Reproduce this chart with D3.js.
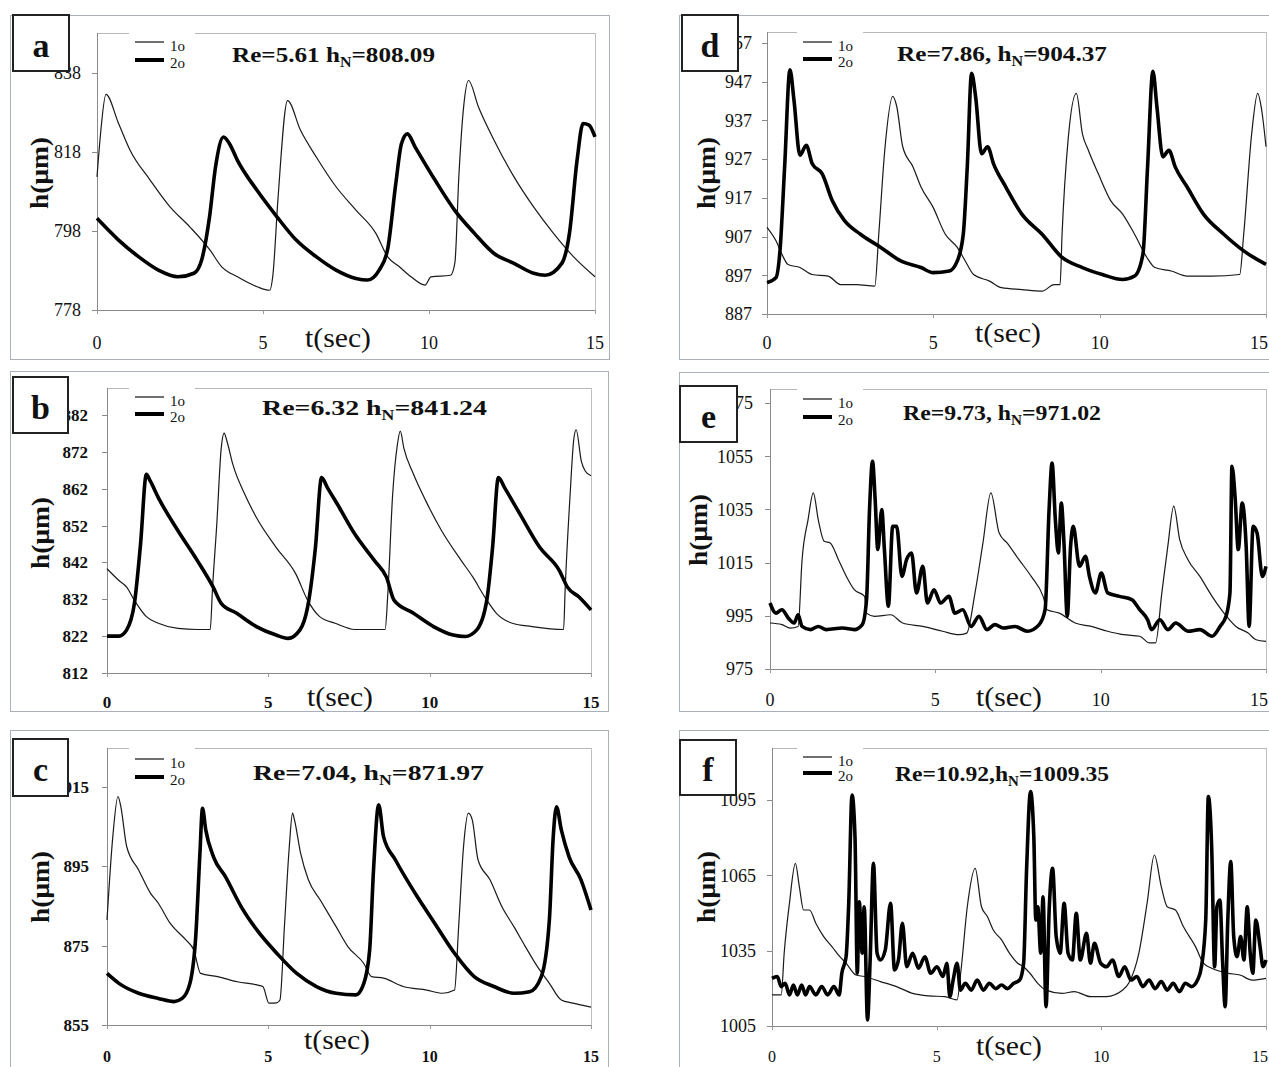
<!DOCTYPE html>
<html><head><meta charset="utf-8">
<script src="https://cdn.jsdelivr.net/npm/d3@7"></script>
<style>body{margin:0;background:#fff}svg{display:block}</style>
</head><body>
<svg id="chart" width="1269" height="1067"></svg>
<script>
// ---------- DATA: [t (sec), h (um)] ----------
const a1o = [[0,811.7],[0.1,822],[0.27,832.6],[0.65,825.2],[1.0,818.4],[1.6,810.9],[2.2,804.1],[2.8,799],[3.4,793.2],[3.75,789],[4.23,786.4],[4.82,783.9],[5.2,783],[5.3,787],[5.45,806],[5.74,831],[6.13,823.5],[6.6,816.8],[7.2,809.2],[7.8,803.3],[8.4,797.4],[8.75,791.5],[9.1,789],[9.46,786.4],[9.88,784.3],[10.06,786.4],[10.65,786.8],[10.78,790],[10.9,812],[11.05,830],[11.19,836.1],[11.49,829.4],[11.96,821],[12.56,811.7],[13.15,804.1],[13.75,797.4],[14.35,791.5],[15,786.4]];
const a2o = [[0,801.2],[0.65,795.7],[1.25,791.5],[1.85,788.1],[2.44,786.4],[2.92,787.3],[3.15,790.6],[3.39,801.6],[3.57,814.2],[3.81,821.8],[3.99,820.1],[4.23,815.9],[4.82,808.3],[5.42,801.6],[6.0,795.7],[6.6,791.5],[7.2,788.1],[7.8,786],[8.15,785.6],[8.5,788.1],[8.75,793.2],[9.0,810],[9.17,820.1],[9.35,822.6],[9.58,819.3],[10.18,810.9],[10.77,803.3],[11.37,797.4],[11.96,792.3],[12.56,789.8],[13.15,787.3],[13.5,786.8],[14.0,789.8],[14.23,797.4],[14.46,815.9],[14.64,825.2],[14.82,824.8],[15,821.8]];
const b1o = [[0,840.3],[0.37,837.1],[0.61,835.3],[0.85,831.7],[1.22,827.3],[1.59,825.5],[2.2,824.1],[2.8,823.8],[3.2,823.8],[3.27,835],[3.4,852],[3.54,873],[3.63,877.1],[3.72,874.8],[3.9,868.6],[4.27,860.5],[4.63,854.2],[5.24,846.1],[5.85,838.9],[6.22,831.7],[6.59,827.3],[7.07,825.5],[7.68,823.8],[8.62,823.8],[8.7,833],[8.85,860],[9.0,874],[9.09,877.6],[9.2,873],[9.5,865.9],[9.88,858.7],[10.37,850.6],[10.98,842.5],[11.34,838],[11.71,832.6],[12.07,828.2],[12.56,825.5],[13.17,824.6],[14.15,823.8],[14.2,835],[14.35,860],[14.47,875.7],[14.54,878],[14.7,869.5],[14.82,866.8],[15,865.5]];
const b2o = [[0,822],[0.37,822],[0.61,823.7],[0.85,830.9],[1.04,847],[1.22,865.9],[1.34,864.1],[1.59,859.6],[2.2,850.6],[2.8,842.5],[3.29,835.3],[3.54,830.9],[4.02,828.2],[4.63,824.6],[5.24,822.3],[5.61,821.4],[5.98,823.7],[6.22,830],[6.46,846.1],[6.65,865],[6.83,862.3],[7.2,856.9],[7.68,849.7],[8.29,842.5],[8.66,838],[8.9,831.7],[9.5,828.2],[10.12,824.6],[10.73,822.3],[11.1,821.9],[11.46,823.7],[11.77,831.7],[11.95,846.1],[12.13,865],[12.32,862.3],[12.8,855.1],[13.41,846.1],[14.02,839.8],[14.27,835.3],[14.63,832.6],[15,829.1]];
const c1o = [[0,881.5],[0.18,902.5],[0.34,912.6],[0.43,910],[0.61,900],[0.98,894.1],[1.35,888.2],[1.59,885.7],[1.96,880.6],[2.45,876.4],[2.69,873.9],[2.9,868],[3.43,867.2],[4.04,865.9],[4.65,865.1],[4.83,864.7],[5.02,860.5],[5.26,860.6],[5.36,861.3],[5.5,880],[5.65,900],[5.75,908.4],[5.81,906.7],[6.0,898.3],[6.24,891.6],[6.61,886.5],[7.1,879.8],[7.47,874.7],[7.96,870.5],[8.2,867.2],[8.57,866.8],[9.18,864.7],[9.91,863.8],[10.4,863],[10.77,863.8],[10.9,880],[11.05,900],[11.2,908.4],[11.32,906.7],[11.5,896.6],[11.87,891.6],[12.24,884.8],[12.61,879.8],[12.97,874.7],[13.34,869.7],[13.71,865.5],[14.08,861.3],[14.44,860.5],[15,859.5]];
const c2o = [[0,868],[0.37,865.5],[0.98,863],[1.59,861.7],[2.08,860.9],[2.33,861.7],[2.57,865.5],[2.75,877.3],[2.88,898.3],[2.96,909.6],[3.06,904.2],[3.3,897.4],[3.67,892.4],[4.16,884.8],[4.65,878.9],[5.26,873.1],[5.88,868],[6.49,864.7],[7.1,863],[7.71,862.6],[7.96,865.5],[8.14,873.9],[8.26,894.1],[8.42,910.5],[8.57,902.5],[8.94,896.6],[9.55,888.2],[10.16,880.6],[10.77,873.1],[11.38,867.2],[11.99,864.7],[12.61,863],[13.1,863.4],[13.46,867.2],[13.71,881.5],[13.83,902.5],[13.93,910],[14.08,904.2],[14.32,897.4],[14.69,891.6],[15,884]];
const d1o = [[0,909.4],[0.27,905.9],[0.45,902.4],[0.63,899.8],[0.99,899],[1.36,897.2],[1.84,896.8],[2.21,894.6],[2.69,894.6],[3.24,894.2],[3.36,907.6],[3.54,929.3],[3.78,943.2],[3.9,940.6],[4.08,930.2],[4.39,925],[4.63,919.8],[4.99,914.6],[5.36,907.6],[5.72,904.2],[5.96,900.7],[6.21,897.2],[6.69,895.5],[7.05,893.8],[7.66,893.3],[8.27,892.9],[8.63,894.6],[8.81,894.6],[8.87,907.6],[9.05,931.9],[9.3,944],[9.48,933.6],[9.66,929.3],[9.96,923.2],[10.33,916.3],[10.69,912.8],[11.05,907.6],[11.42,901.6],[11.66,899],[12.15,898.1],[12.63,896.8],[13.36,896.8],[14.21,897.2],[14.33,907.6],[14.57,933.6],[14.75,944],[14.87,939.7],[15,930.2]];
const d2o = [[0,895.1],[0.27,896.4],[0.39,903.3],[0.53,925],[0.69,950.1],[0.81,942.3],[0.99,928],[1.18,930.6],[1.36,925.8],[1.66,923.2],[1.96,916.3],[2.33,911.1],[2.81,907.6],[3.42,904.2],[4.02,900.7],[4.63,899],[4.99,897.7],[5.48,898.1],[5.72,900.7],[5.9,907.6],[6.02,925],[6.15,949.2],[6.27,943.2],[6.45,928.4],[6.63,930.2],[6.81,925.8],[7.18,919.8],[7.66,912.8],[8.27,907.6],[8.87,901.6],[9.48,899],[10.08,897.2],[10.69,895.9],[11.05,896.8],[11.3,902.4],[11.44,925],[11.6,949.7],[11.72,940.6],[11.9,927.6],[12.08,929.3],[12.27,925],[12.63,919.8],[13.12,912.8],[13.73,907.6],[14.33,903.3],[15,899.8]];
const e1o = [[0,992.3],[0.36,991.7],[0.61,990.4],[0.85,991],[0.97,1016.1],[1.15,1031.1],[1.31,1041.2],[1.46,1031.1],[1.64,1023],[1.82,1022.4],[2.07,1016.1],[2.31,1009.8],[2.55,1004.8],[2.86,1002.3],[2.92,996],[3.16,994.8],[3.65,995.4],[4.01,992.3],[4.62,991],[5.22,989.2],[5.71,987.9],[5.95,988.5],[6.2,1003.6],[6.44,1022.4],[6.68,1041.2],[6.93,1026.1],[7.17,1022.4],[7.53,1016.1],[7.9,1009.8],[8.26,1002.3],[8.38,997.3],[8.75,996],[9.23,992.3],[9.72,991],[10.21,989.2],[10.69,987.9],[11.18,987.3],[11.48,984.8],[11.66,984.8],[11.85,1003.6],[12.03,1021.1],[12.21,1036.2],[12.39,1023.6],[12.64,1016.1],[13.0,1009.8],[13.37,1002.3],[13.73,996],[14.09,991],[14.46,988.5],[14.7,986],[15,985.4]];
const e2o = [[0,999.8],[0.18,996],[0.36,997.3],[0.55,994.2],[0.73,992.3],[0.85,995.4],[0.97,991],[1.22,989.8],[1.46,991],[1.7,989.8],[2.19,990.4],[2.55,989.8],[2.79,991.7],[2.92,1001.1],[3.01,1034.9],[3.1,1053.1],[3.18,1038.7],[3.26,1019.9],[3.38,1034.9],[3.46,1019.9],[3.58,998.6],[3.71,1028.6],[3.83,1028.6],[3.99,1009.8],[4.13,1016.1],[4.28,1018.6],[4.43,1003.6],[4.62,1013.6],[4.76,999.8],[4.96,1004.8],[5.16,999.8],[5.41,1002.3],[5.59,996],[5.83,997.3],[6.08,991],[6.32,994.8],[6.56,989.8],[6.8,991.7],[7.05,990.4],[7.41,991],[7.78,989.2],[8.14,991.7],[8.32,997.3],[8.44,1034.9],[8.53,1052.4],[8.63,1031.1],[8.72,1018.6],[8.81,1037.4],[8.89,1022.4],[8.99,994.8],[9.09,1021.1],[9.17,1028.6],[9.36,1013.6],[9.54,1017.4],[9.66,1009.8],[9.84,1003.6],[10.02,1011.1],[10.21,1003.6],[10.57,1002.3],[10.94,1001.1],[11.18,997.3],[11.42,993.5],[11.54,989.8],[11.79,993.5],[12.03,989.8],[12.27,992.3],[12.64,989.2],[13.0,989.8],[13.37,987.3],[13.61,991],[13.79,994.8],[13.91,1003.6],[13.97,1051.2],[14.07,1038.7],[14.16,1019.9],[14.28,1037.4],[14.4,1021.1],[14.49,991],[14.61,1028.6],[14.73,1026.1],[14.89,1009.8],[15,1013.6]];
const f1o = [[0,1017.4],[0.28,1017.4],[0.37,1034],[0.53,1053.9],[0.71,1069.8],[0.83,1060.5],[0.96,1051.2],[1.14,1051.2],[1.33,1045.9],[1.57,1040.6],[1.82,1036.6],[2.06,1032.6],[2.25,1030],[2.55,1025.3],[2.8,1024.7],[3.29,1022.7],[3.78,1020.7],[4.27,1018],[4.76,1017],[5.25,1016.7],[5.62,1015.4],[5.74,1027.3],[5.93,1052.5],[6.17,1067.8],[6.36,1052.5],[6.54,1048.6],[6.72,1043.2],[6.97,1039.3],[7.21,1034],[7.46,1030],[7.64,1028.6],[7.83,1026],[8.07,1022],[8.32,1019.3],[8.81,1018],[9.18,1018.7],[9.67,1016.7],[10.16,1016.7],[10.65,1019.3],[10.83,1022],[11.14,1034],[11.39,1053.9],[11.61,1073.1],[11.82,1060.5],[12.0,1052.5],[12.25,1051.2],[12.49,1044.6],[12.86,1036.6],[13.1,1030],[13.35,1028],[13.84,1026],[14.21,1025.3],[14.58,1023.3],[15,1024]];
const f2o = [[0,1024],[0.16,1024.7],[0.28,1020.7],[0.4,1022],[0.53,1017.4],[0.65,1021.3],[0.77,1017.4],[0.9,1021.3],[1.02,1017.4],[1.14,1020.7],[1.33,1017.4],[1.51,1020.7],[1.69,1017.4],[1.88,1020.7],[2.04,1017.4],[2.12,1026],[2.25,1032.6],[2.33,1053.9],[2.43,1097],[2.52,1080.4],[2.59,1026],[2.65,1054.5],[2.74,1034],[2.8,1052.5],[2.9,1007.4],[2.98,1031.3],[3.08,1069.8],[3.19,1034],[3.29,1031.3],[3.44,1035.3],[3.6,1053.9],[3.72,1027.3],[3.84,1031.3],[3.96,1045.9],[4.09,1028.6],[4.27,1034],[4.45,1028],[4.64,1032.6],[4.82,1026],[5.01,1028.6],[5.19,1024.7],[5.31,1030],[5.4,1016.7],[5.5,1023.3],[5.62,1030],[5.72,1019.3],[5.87,1022],[6.05,1019.3],[6.23,1023.3],[6.42,1019.3],[6.6,1022],[6.79,1019.9],[6.97,1021.3],[7.15,1019.9],[7.34,1022],[7.52,1023.3],[7.64,1030],[7.73,1067.2],[7.85,1098.4],[7.95,1080.4],[8.01,1047.2],[8.07,1052.5],[8.16,1034],[8.23,1056.5],[8.32,1012.7],[8.42,1052.5],[8.52,1067.8],[8.63,1040.6],[8.75,1034],[8.87,1053.9],[8.99,1034],[9.12,1031.3],[9.24,1049.9],[9.36,1031.3],[9.55,1041.9],[9.67,1030],[9.79,1037.9],[9.98,1030],[10.16,1028.6],[10.34,1031.3],[10.53,1024.7],[10.71,1028.6],[10.9,1023.3],[11.08,1024.7],[11.26,1020.7],[11.45,1023.3],[11.63,1019.9],[11.82,1022.7],[12.0,1019.3],[12.18,1022],[12.37,1018.7],[12.55,1022],[12.74,1020.7],[12.92,1023.3],[13.04,1028.6],[13.17,1047.2],[13.25,1096.4],[13.35,1076.4],[13.44,1028.6],[13.51,1052.5],[13.6,1055.2],[13.68,1031.3],[13.76,1012.7],[13.84,1047.2],[13.93,1070.5],[14.02,1040.6],[14.12,1032.6],[14.23,1040.6],[14.33,1031.3],[14.43,1052.5],[14.52,1034],[14.6,1026],[14.69,1047.2],[14.82,1036.6],[14.91,1028.6],[15,1031.3]];

// tick labels
const xTicks = [0, 5, 10, 15];
const ticksA = [778, 798, 818, 838];
const ticksB = [812, 822, 832, 842, 852, 862, 872, 882];
const ticksC = [855, 875, 895, 915];
const ticksD = [887, 897, 907, 917, 927, 937, 947, 957];
const ticksE = [975, 995, 1015, 1035, 1055, 1075];
const ticksF = [1005, 1035, 1065, 1095];

// annotations
const panelLetters = ["a", "b", "c", "d", "e", "f"];
const reTexts = ["Re=5.61 h", "Re=6.32 h", "Re=7.04, h", "Re=7.86, h", "Re=9.73, h", "Re=10.92,h"];
const hnTexts = ["=808.09", "=841.24", "=871.97", "=904.37", "=971.02", "=1009.35"];
const legendNames = ["1o", "2o"];

// ---------- LAYOUT ----------
const layouts = [
  {frame:[10,15,599,344], box:[12,14,58,58], px:[97,595], top:33, yPx:[310,73], ticks:ticksA, bold:false, lo:16, yt:[39,173], xlabY:343, ts:[338,338], leg:[135,42,60], ann:[232,54,203], s1:a1o, s2:a2o},
  {frame:[10,371,598,340], box:[12,376,57,58], px:[107,591], top:388, yPx:[673,415], ticks:ticksB, bold:true, lo:19, yt:[40,533], xlabY:702, ts:[340,697], leg:[135,397,414], ann:[262,407,225], s1:b1o, s2:b2o},
  {frame:[10,730,598,360], box:[12,738,57,59], px:[107,591], top:748, yPx:[1025,787], ticks:ticksC, bold:true, lo:18, yt:[40,887], xlabY:1056, ts:[337,1040], leg:[135,759,777], ann:[253,772,231], s1:c1o, s2:c2o},
  {frame:[679,15,620,344], box:[681,14,58,58], px:[767,1266], top:32, yPx:[314,43], ticks:ticksD, bold:false, lo:15, yt:[706,173], xlabY:343, ts:[1008,333], leg:[803,42,59], ann:[897,53,210], s1:d1o, s2:d2o},
  {frame:[679,372,620,339], box:[679,385,59,58], px:[770,1266], top:389, yPx:[669,403], ticks:ticksE, bold:false, lo:17, yt:[698,530], xlabY:700, ts:[1009,697], leg:[803,399,417], ann:[903,412,198], s1:e1o, s2:e2o},
  {frame:[679,730,620,360], box:[679,739,58,57], px:[772,1266], top:748, yPx:[1026,800], ticks:ticksF, bold:false, lo:16, yt:[706,887], xlabY:1056, ts:[1009,1046], leg:[803,757,773], ann:[895,773,214], s1:f1o, s2:f2o}
];

const serif = "'Liberation Serif','Times New Roman',serif";
const svg = d3.select("#chart");
svg.append("rect").attr("width",1269).attr("height",1067).attr("fill","#fff");

layouts.forEach((L, i) => {
  const g = svg.append("g");
  const [fx, fy, fw, fh] = L.frame;
  g.append("rect").attr("x", fx+0.5).attr("y", fy+0.5).attr("width", fw).attr("height", fh)
    .attr("fill", "none").attr("stroke", "#aab0bb").attr("stroke-width", 1);

  const x = d3.scaleLinear().domain([0, 15]).range(L.px);
  const t = L.ticks;
  const y = d3.scaleLinear().domain([t[0], t[t.length-1]]).range(L.yPx);
  const bottom = y(t[0]);

  // plot area borders
  g.append("line").attr("x1", L.px[0]).attr("x2", L.px[1]).attr("y1", L.top+0.5).attr("y2", L.top+0.5).attr("stroke", "#b8b8b8");
  g.append("line").attr("x1", L.px[1]+0.5).attr("x2", L.px[1]+0.5).attr("y1", L.top).attr("y2", bottom).attr("stroke", "#c0c0c0");
  g.append("line").attr("x1", L.px[0]+0.5).attr("x2", L.px[0]+0.5).attr("y1", L.top).attr("y2", bottom).attr("stroke", "#8a8a8a");
  g.append("line").attr("x1", L.px[0]).attr("x2", L.px[1]).attr("y1", bottom+0.5).attr("y2", bottom+0.5).attr("stroke", "#8a8a8a");

  const fw8 = L.bold ? "bold" : "normal";
  const fs = L.bold ? 17 : 18;
  // y ticks
  t.forEach(v => {
    g.append("line").attr("x1", L.px[0]-5).attr("x2", L.px[0]).attr("y1", Math.round(y(v))+0.5).attr("y2", Math.round(y(v))+0.5).attr("stroke", "#8a8a8a");
    g.append("text").attr("x", L.px[0]-L.lo).attr("y", y(v)).attr("dy", "0.35em")
      .attr("text-anchor", "end").attr("font-family", serif).attr("font-size", fs).attr("font-weight", fw8)
      .attr("fill", "#111").text(v);
  });
  // x ticks
  xTicks.forEach(v => {
    g.append("line").attr("x1", Math.round(x(v))+0.5).attr("x2", Math.round(x(v))+0.5).attr("y1", bottom).attr("y2", bottom+4).attr("stroke", "#9a9a9a");
    const edge = x(v) + 10 > 1269;
    g.append("text").attr("x", edge ? 1268 : x(v)).attr("y", L.xlabY).attr("dy", "0.35em")
      .attr("text-anchor", edge ? "end" : "middle").attr("font-family", serif).attr("font-size", L.xlabY > 1050 ? 16 : fs).attr("font-weight", fw8)
      .attr("fill", "#111").text(v);
  });

  // series
  const line = d3.line().x(d => x(d[0])).y(d => y(d[1])).curve(d3.curveMonotoneX);
  g.append("path").datum(L.s1).attr("d", line).attr("fill", "none").attr("stroke", "#1a1a1a").attr("stroke-width", 1.2).attr("stroke-linejoin", "round");
  g.append("path").datum(L.s2).attr("d", line).attr("fill", "none").attr("stroke", "#000").attr("stroke-width", 3.6).attr("stroke-linejoin", "round");

  // legend
  const [lx, ly1, ly2] = L.leg;
  g.append("rect").attr("x", lx-6).attr("y", L.top-2).attr("width", 66).attr("height", 5).attr("fill", "#fff");
  g.append("line").attr("x1", lx).attr("x2", lx+29).attr("y1", ly1).attr("y2", ly1).attr("stroke", "#222").attr("stroke-width", 1.3);
  g.append("line").attr("x1", lx).attr("x2", lx+29).attr("y1", ly2).attr("y2", ly2).attr("stroke", "#000").attr("stroke-width", 4);
  g.append("text").attr("x", lx+35).attr("y", ly1+4).attr("dy", "0.35em").attr("font-family", serif).attr("font-size", 15).attr("fill", "#111").text(legendNames[0]);
  g.append("text").attr("x", lx+35).attr("y", ly2+3).attr("dy", "0.35em").attr("font-family", serif).attr("font-size", 15).attr("fill", "#111").text(legendNames[1]);

  // annotation
  const [ax, ay, aw] = L.ann;
  const at = g.append("text").attr("x", ax).attr("y", ay).attr("dy", "0.35em")
    .attr("font-family", serif).attr("font-size", 22).attr("font-weight", "bold").attr("fill", "#111")
    .attr("textLength", aw).attr("lengthAdjust", "spacingAndGlyphs");
  at.append("tspan").text(reTexts[i]);
  at.append("tspan").attr("font-size", 14).attr("dy", 5).text("N");
  at.append("tspan").attr("dy", -5).text(hnTexts[i]);

  // axis titles
  g.append("text").attr("x", L.ts[0]).attr("y", L.ts[1]).attr("dy", "0.35em").attr("text-anchor", "middle")
    .attr("font-family", serif).attr("font-size", 27).attr("fill", "#111")
    .attr("textLength", 66).attr("lengthAdjust", "spacingAndGlyphs").text("t(sec)");
  g.append("text").attr("transform", `translate(${L.yt[0]},${L.yt[1]}) rotate(-90)`).attr("dy", "0.35em")
    .attr("text-anchor", "middle").attr("font-family", serif).attr("font-size", 25).attr("font-weight", "bold").attr("fill", "#111")
    .attr("textLength", 72).attr("lengthAdjust", "spacingAndGlyphs").text("h(μm)");

  // panel letter box
  const [bx, by, bw, bh] = L.box;
  g.append("rect").attr("x", bx+1).attr("y", by+1).attr("width", bw-2).attr("height", bh-2)
    .attr("fill", "#fff").attr("stroke", "#222").attr("stroke-width", 2);
  g.append("text").attr("x", bx+bw/2).attr("y", by+bh/2+2).attr("dy", "0.35em").attr("text-anchor", "middle")
    .attr("font-family", serif).attr("font-size", 34).attr("font-weight", "bold").attr("fill", "#111").text(panelLetters[i]);
});
</script>
</body></html>
